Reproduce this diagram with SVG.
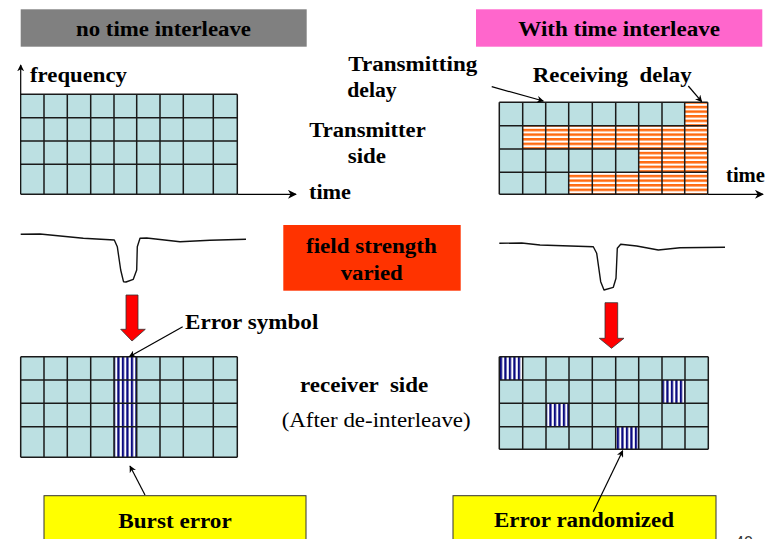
<svg xmlns="http://www.w3.org/2000/svg" width="771" height="539" viewBox="0 0 771 539">
<style>
.b{font-family:'Liberation Serif','DejaVu Serif','Times New Roman',serif;font-weight:bold;font-size:20px;fill:#000}
.r{font-family:'Liberation Serif','DejaVu Serif','Times New Roman',serif;font-size:20px;fill:#000}
.cell{fill:#BCE0E2}
.grid{fill:none;stroke:#1a1a1a;stroke-width:1.5}
.ln{fill:none;stroke:#000;stroke-width:1.2}
.curve{fill:none;stroke:#111;stroke-width:1.4;stroke-linejoin:round}
.red{fill:#FF0000;stroke:#333;stroke-width:0.8}
</style>
<defs>
<pattern id="orange" patternUnits="userSpaceOnUse" width="10" height="4.6">
<rect width="10" height="4.6" fill="#fff"/>
<rect y="0" width="10" height="2.5" fill="#FF6A10"/>
</pattern>
<pattern id="navy" patternUnits="userSpaceOnUse" width="4.5" height="10" x="0.3">
<rect width="4.5" height="10" fill="#fff"/>
<rect x="0" width="2.3" height="10" fill="#0A0A80"/>
</pattern>
<marker id="ah" viewBox="0 0 10 10" refX="9" refY="5" markerWidth="7" markerHeight="7" orient="auto" markerUnits="userSpaceOnUse">
<path d="M0,0 L10,5 L0,10 L3,5 z" fill="#000"/>
</marker>
<marker id="ah2" viewBox="0 0 10 10" refX="9" refY="5" markerWidth="9" markerHeight="9" orient="auto" markerUnits="userSpaceOnUse">
<path d="M0,0 L10,5 L0,10 L3,5 z" fill="#000"/>
</marker>
</defs>
<rect width="771" height="539" fill="#fff"/>

<g id="title-left">
<rect x="20.7" y="9.3" width="286" height="37.4" fill="#808080"/>
<text class="b" font-family="Liberation Serif, DejaVu Serif, serif" x="76" y="35.5" textLength="175" lengthAdjust="spacingAndGlyphs" fill="#111">no time interleave</text>
</g>
<g id="title-right">
<rect x="476" y="9.3" width="286.3" height="37.4" fill="#FF66CC"/>
<text class="b" x="518.3" y="36" textLength="201.7" lengthAdjust="spacingAndGlyphs">With time interleave</text>
</g>

<g id="grid-tx-left">
<rect class="cell" x="20.7" y="94.3" width="216.6" height="100"/>
<path class="grid" d="M20.7,94.3H237.3M20.7,117.7H237.3M20.7,141H237.3M20.7,164.3H237.3M20.7,194.3H237.3M44,94.3V194.3M67.3,94.3V194.3M90.7,94.3V194.3M114,94.3V194.3M136.7,94.3V194.3M160,94.3V194.3M183.3,94.3V194.3M213.3,94.3V194.3M237.3,94.3V194.3"/>
<text class="b" x="30" y="82" textLength="97" lengthAdjust="spacingAndGlyphs">frequency</text>
<text class="b" x="309" y="199" textLength="42" lengthAdjust="spacingAndGlyphs">time</text>
</g>

<g id="grid-tx-right">
<rect class="cell" x="499.3" y="102.3" width="208.4" height="92"/>
<rect x="684.7" y="102.3" width="23" height="23.4" fill="url(#orange)"/>
<rect x="522.7" y="125.7" width="185" height="23.3" fill="url(#orange)"/>
<rect x="638.7" y="149" width="69" height="23.3" fill="url(#orange)"/>
<rect x="568.7" y="172.3" width="139" height="22" fill="url(#orange)"/>
<path class="grid" d="M499.3,102.3H707.7M499.3,125.7H707.7M499.3,149H707.7M499.3,172.3H707.7M499.3,194.3H707.7M499.3,102.3V194.3M522.7,102.3V194.3M545.7,102.3V194.3M568.7,102.3V194.3M592.3,102.3V194.3M615.7,102.3V194.3M638.7,102.3V194.3M662,102.3V194.3M684.7,102.3V194.3M707.7,102.3V194.3"/>
<text class="b" x="726" y="181.7" textLength="39" lengthAdjust="spacingAndGlyphs">time</text>
</g>

<g id="labels-top">
<text class="b" x="348.3" y="71" textLength="129" lengthAdjust="spacingAndGlyphs">Transmitting</text>
<text class="b" x="347.3" y="97" textLength="49.4" lengthAdjust="spacingAndGlyphs">delay</text>
<text class="b" x="532.7" y="81.7" textLength="159" lengthAdjust="spacingAndGlyphs" xml:space="preserve">Receiving  delay</text>
<text class="b" x="309.3" y="136.7" textLength="116.4" lengthAdjust="spacingAndGlyphs">Transmitter</text>
<text class="b" x="347.7" y="163" textLength="38.3" lengthAdjust="spacingAndGlyphs">side</text>
</g>

<g id="field-strength">
<rect x="283.3" y="225" width="177.4" height="65.7" fill="#FF3300"/>
<text class="b" x="306" y="252.7" textLength="130.7" lengthAdjust="spacingAndGlyphs">field strength</text>
<text class="b" x="340.7" y="280" textLength="62" lengthAdjust="spacingAndGlyphs">varied</text>
</g>

<g id="curves">
<path class="curve" d="M20.7,234.3 L40,234 L83.3,238.3 L114.3,240 L117.3,246.7 L120.7,270 L123.5,281.7 L126,282 L133.3,279.3 L136.7,270 L137.3,246.7 L140,238.3 L146.7,238 L180,241.7 L210,240.3 L246,239.3"/>
<path class="curve" d="M499.3,243.3 L521.7,243 L540,245 L593.3,246.7 L596.7,253.3 L600.7,281.7 L604,290 L613.3,287.3 L616,278.3 L617.3,248.3 L620.7,244.3 L636.7,246 L658.3,250 L680,247.7 L725,247.3"/>
</g>

<g id="red-arrows">
<polygon class="red" points="126,295 138,295 138,329.3 145.3,329.3 132,341 120.7,329.3 126,329.3"/>
<polygon class="red" points="605,302.7 617.7,302.7 617.7,338.3 624,338.3 611.5,348.3 599.3,338.3 605,338.3"/>
</g>

<g id="grid-rx-left">
<rect class="cell" x="20.7" y="356.7" width="216.6" height="100.6"/>
<rect x="114" y="356.7" width="22.7" height="100.6" fill="url(#navy)"/>
<path class="grid" d="M20.7,356.7H237.3M20.7,380H237.3M20.7,403.3H237.3M20.7,426.7H237.3M20.7,457.3H237.3M20.7,356.7V457.3M44,356.7V457.3M67.3,356.7V457.3M90.7,356.7V457.3M114,356.7V457.3M136.7,356.7V457.3M160,356.7V457.3M183.3,356.7V457.3M213.3,356.7V457.3M237.3,356.7V457.3"/>
</g>

<g id="grid-rx-right">
<rect class="cell" x="499.3" y="356.7" width="209" height="92.6"/>
<rect x="499.3" y="356.7" width="23.4" height="23.3" fill="url(#navy)"/>
<rect x="662" y="380" width="23" height="23.3" fill="url(#navy)"/>
<rect x="546" y="403.3" width="23" height="23.4" fill="url(#navy)"/>
<rect x="615.7" y="426.7" width="23" height="22.6" fill="url(#navy)"/>
<path class="grid" d="M499.3,356.7H708.3M499.3,380H708.3M499.3,403.3H708.3M499.3,426.7H708.3M499.3,449.3H708.3M499.3,356.7V449.3M522.7,356.7V449.3M546,356.7V449.3M569,356.7V449.3M592.3,356.7V449.3M615.7,356.7V449.3M638.7,356.7V449.3M662,356.7V449.3M685,356.7V449.3M708.3,356.7V449.3"/>
</g>

<g id="labels-mid">
<text class="b" x="185" y="329.3" textLength="133.3" lengthAdjust="spacingAndGlyphs">Error symbol</text>
<text class="b" x="300" y="391.7" textLength="128.3" lengthAdjust="spacingAndGlyphs" xml:space="preserve">receiver  side</text>
<text class="r" x="281.7" y="426.7" textLength="189" lengthAdjust="spacingAndGlyphs">(After de-interleave)</text>
</g>

<g id="burst-error">
<rect x="44" y="495.7" width="262" height="50" fill="#FFFF00" stroke="#333" stroke-width="1"/>
<text class="b" x="118.3" y="527.7" textLength="113.4" lengthAdjust="spacingAndGlyphs">Burst error</text>
</g>
<g id="error-randomized">
<rect x="453" y="495.7" width="263" height="50" fill="#FFFF00" stroke="#333" stroke-width="1"/>
<text class="b" x="494" y="526.7" textLength="180" lengthAdjust="spacingAndGlyphs">Error randomized</text>
</g>

<g id="connectors">
<line class="ln" x1="20.7" y1="194.3" x2="20.7" y2="65" marker-end="url(#ah)"/>
<line class="ln" x1="237.3" y1="194.3" x2="296" y2="194.3" marker-end="url(#ah2)"/>
<line class="ln" x1="707.7" y1="194.3" x2="763" y2="194.3" marker-end="url(#ah2)"/>
<line class="ln" x1="491.7" y1="86.7" x2="543.3" y2="101" marker-end="url(#ah)"/>
<line class="ln" x1="688.3" y1="86" x2="701.7" y2="101.7" marker-end="url(#ah)"/>
<line class="ln" x1="182.7" y1="326.7" x2="129.3" y2="356.7" marker-end="url(#ah)"/>
<line class="ln" x1="145" y1="495" x2="130" y2="466" marker-end="url(#ah)"/>
<line class="ln" x1="593.3" y1="511.7" x2="622.7" y2="450.7" marker-end="url(#ah)"/>
</g>

<text x="735" y="548" font-family="Liberation Sans, Arial, sans-serif" font-size="16" fill="#333">40</text>
</svg>
